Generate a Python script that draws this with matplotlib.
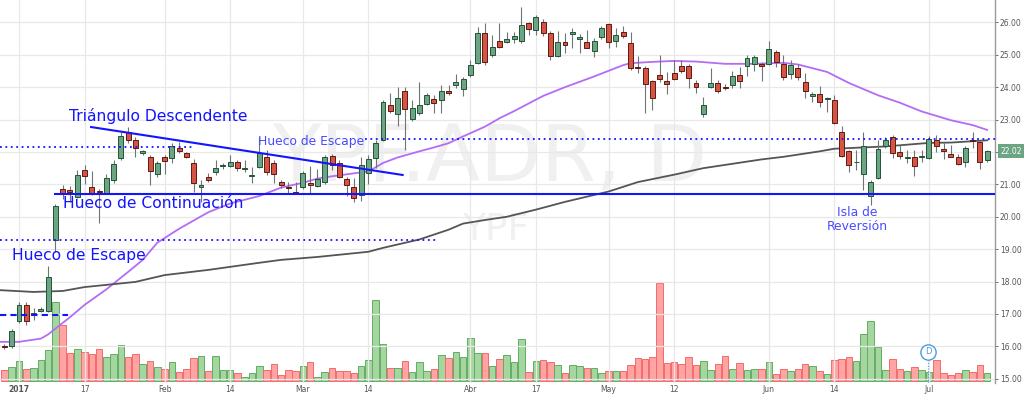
import matplotlib
matplotlib.use('Agg')
import matplotlib.pyplot as plt
import matplotlib.transforms as mtransforms
import numpy as np

# trading-day index: 0 = 3 Jan 2017, the two sessions before it are late Dec 2016
days = np.arange(-2, 134)

opens = [16.02, 16.00, 16.78, 17.28, 16.98, 17.08, 17.10, 19.29, 20.86, 20.82,
         20.60, 21.43, 20.92, 20.80, 20.74, 21.14, 21.81, 22.62, 22.37, 21.98,
         21.85, 21.32, 21.85, 21.82, 22.12, 21.96, 21.66, 20.93, 21.24, 21.39,
         21.56, 21.57, 21.70, 21.47, 21.26, 21.54, 21.85, 21.66, 21.07, 20.90,
         20.78, 20.92, 21.05, 20.95, 21.07, 21.88, 21.67, 21.16, 20.92, 20.67,
         21.35, 21.82, 22.37, 23.45, 23.17, 23.88, 23.02, 23.20, 23.48, 23.63,
         23.60, 23.88, 24.07, 23.95, 24.38, 24.75, 25.68, 25.00, 25.42, 25.40,
         25.48, 25.43, 25.98, 25.77, 26.00, 25.68, 24.96, 25.40, 25.64, 25.48,
         25.40, 25.12, 25.55, 25.95, 25.43, 25.70, 25.37, 24.62, 24.60, 24.20,
         24.38, 24.20, 24.44, 24.66, 24.66, 24.13, 23.17, 24.00, 24.13, 24.00,
         24.07, 24.38, 24.66, 24.72, 24.73, 24.72, 25.09, 24.72, 24.41, 24.60,
         24.16, 23.74, 23.78, 23.64, 23.60, 22.62, 22.03, 21.68, 21.32, 20.64,
         21.20, 22.18, 22.47, 22.00, 21.81, 21.85, 21.85, 21.82, 22.37, 22.10,
         21.94, 21.85, 21.69, 22.38, 22.30, 21.76]
highs = [16.08, 16.55, 17.38, 17.37, 17.20, 17.22, 18.48, 20.40, 20.98, 20.95,
         21.45, 21.60, 21.40, 20.85, 21.32, 21.75, 22.62, 22.78, 22.47, 22.07,
         21.92, 21.72, 21.90, 22.28, 22.30, 22.00, 21.78, 21.12, 21.36, 21.75,
         21.65, 21.92, 21.75, 21.75, 21.55, 22.45, 22.05, 21.75, 21.15, 21.07,
         21.07, 21.42, 21.57, 21.48, 21.90, 21.95, 21.75, 21.24, 21.20, 21.85,
         21.92, 22.38, 23.60, 23.82, 24.00, 24.00, 23.60, 24.17, 23.82, 23.77,
         24.07, 24.07, 24.40, 24.32, 24.84, 25.86, 25.99, 25.60, 25.98, 25.70,
         25.70, 26.48, 26.02, 26.24, 26.10, 25.72, 25.74, 25.67, 25.83, 25.65,
         25.77, 25.52, 25.90, 25.98, 25.83, 25.90, 25.70, 24.97, 24.65, 24.23,
         25.00, 24.47, 24.84, 24.84, 24.70, 24.23, 23.70, 24.59, 24.23, 24.10,
         24.50, 24.63, 25.00, 25.00, 24.78, 25.43, 25.15, 25.00, 24.84, 24.73,
         24.44, 23.85, 24.04, 23.70, 23.76, 22.80, 22.06, 22.06, 22.62, 21.14,
         22.37, 22.47, 22.52, 22.20, 22.06, 22.06, 22.06, 22.50, 22.52, 22.28,
         22.20, 21.94, 22.18, 22.62, 22.33, 22.05]
lows = [15.93, 15.95, 16.72, 16.66, 16.82, 17.05, 17.05, 18.92, 20.55, 20.45,
        20.58, 21.00, 20.68, 19.80, 20.72, 21.05, 21.76, 22.28, 21.85, 21.90,
        20.98, 21.22, 21.32, 21.66, 21.98, 21.80, 20.77, 20.45, 21.08, 21.30,
        21.48, 21.55, 21.42, 21.38, 21.05, 21.50, 21.30, 21.03, 20.88, 20.73,
        20.70, 20.85, 20.72, 20.92, 21.00, 21.45, 21.20, 20.65, 20.46, 20.50,
        21.00, 21.52, 22.35, 23.20, 22.80, 22.06, 22.95, 23.14, 23.45, 23.20,
        23.20, 23.75, 23.97, 23.73, 24.32, 24.72, 24.69, 24.93, 25.20, 25.35,
        25.35, 25.37, 25.60, 25.60, 25.58, 24.84, 24.92, 25.05, 25.20, 25.05,
        25.20, 24.93, 25.50, 25.20, 25.25, 25.52, 24.53, 24.44, 23.20, 23.30,
        24.16, 23.80, 24.22, 24.45, 23.97, 23.82, 23.08, 23.98, 23.82, 23.90,
        23.98, 23.97, 24.35, 24.50, 24.20, 24.68, 24.62, 24.22, 24.25, 24.22,
        23.67, 23.55, 23.39, 23.23, 22.85, 21.85, 21.38, 21.45, 20.82, 20.37,
        21.18, 22.12, 21.82, 21.78, 21.66, 21.26, 21.70, 21.78, 22.00, 21.78,
        21.83, 21.60, 21.54, 22.12, 21.47, 21.68]
closes = [15.98, 16.47, 17.28, 16.79, 17.02, 17.15, 18.14, 20.32, 20.73, 20.78,
          21.30, 21.25, 20.70, 20.75, 21.20, 21.63, 22.50, 22.37, 22.12, 22.02,
          21.42, 21.66, 21.73, 22.17, 22.04, 21.85, 21.03, 20.97, 21.14, 21.52,
          21.58, 21.70, 21.51, 21.50, 21.28, 21.96, 21.38, 21.32, 20.98, 20.88,
          20.72, 21.35, 20.98, 21.17, 21.85, 21.60, 21.24, 20.98, 20.58, 21.60,
          21.78, 22.27, 23.54, 23.27, 23.66, 23.33, 23.36, 23.45, 23.76, 23.51,
          23.88, 23.82, 24.17, 24.25, 24.69, 25.68, 24.78, 25.23, 25.24, 25.48,
          25.58, 25.92, 25.80, 26.17, 25.67, 24.96, 25.40, 25.30, 25.70, 25.55,
          25.21, 25.43, 25.83, 25.40, 25.61, 25.58, 24.60, 24.58, 24.10, 23.67,
          24.26, 24.10, 24.25, 24.50, 24.28, 24.00, 23.45, 24.13, 23.88, 23.98,
          24.35, 24.20, 24.90, 24.93, 24.66, 25.18, 24.78, 24.32, 24.69, 24.32,
          23.88, 23.78, 23.54, 23.66, 22.90, 21.88, 21.60, 21.70, 22.19, 21.07,
          22.10, 22.37, 21.97, 21.88, 21.83, 21.57, 21.88, 22.40, 22.18, 22.02,
          21.86, 21.63, 22.12, 22.35, 21.69, 22.02]
# volume, thousands of shares
volume = [550, 700, 1000, 600, 650, 1050, 1550, 3950, 2800, 1400,
          1600, 1450, 1350, 1600, 1200, 1350, 1800, 1200, 1350, 850,
          1000, 700, 600, 950, 450, 600, 1150, 1250, 500, 1250,
          550, 550, 400, 200, 400, 750, 550, 850, 300, 550,
          500, 750, 950, 200, 450, 650, 500, 500, 400, 750,
          1050, 4050, 1850, 650, 650, 1000, 450, 950, 500, 600,
          1300, 1150, 1450, 1200, 2150, 1400, 1400, 750, 1100, 1300,
          950, 2100, 450, 1000, 1050, 950, 800, 400, 800, 750,
          650, 650, 400, 500, 500, 500, 800, 1150, 1100, 1200,
          4900, 900, 950, 850, 1200, 800, 1000, 550, 850, 1250,
          600, 900, 550, 600, 600, 950, 350, 600, 500, 600,
          850, 750, 500, 350, 1050, 1100, 1200, 1000, 2350, 3000,
          1700, 550, 1100, 600, 500, 700, 550, 450, 1050, 400,
          300, 400, 550, 450, 800, 400]

# moving averages (day index, price)
ma_fast_days = [-3, 0, 3, 4, 7, 9, 12, 15, 17, 19, 22, 26, 29, 33, 36, 39, 41, 43,
                45, 48, 50, 52, 55, 57, 59, 61, 64, 66, 68, 72, 75, 79, 83, 84,
                87, 90, 93, 97, 101, 105, 107, 111, 114, 118, 121, 124, 128, 131, 133]
ma_fast = [16.14, 16.14, 16.24, 16.37, 16.90, 17.28, 17.76, 18.30, 18.67, 19.20,
           19.63, 20.14, 20.41, 20.64, 20.90, 21.05, 21.18, 21.25, 21.31, 21.40,
           21.66, 21.83, 22.02, 22.14, 22.27, 22.48, 22.78, 23.04, 23.26, 23.73,
           24.00, 24.33, 24.68, 24.74, 24.78, 24.81, 24.79, 24.72, 24.72, 24.75,
           24.70, 24.47, 24.13, 23.75, 23.52, 23.25, 22.98, 22.83, 22.68]
ma_slow_days = [-3, 2, 6, 9, 16, 20, 26, 33, 36, 41, 48, 50, 55, 59, 61, 64, 67, 71,
                75, 81, 85, 90, 94, 102, 105, 110, 112, 119, 125, 128, 133]
ma_slow = [17.74, 17.68, 17.71, 17.83, 17.99, 18.20, 18.36, 18.58, 18.67, 18.76,
           18.92, 19.04, 19.30, 19.60, 19.79, 19.90, 20.00, 20.22, 20.46, 20.78,
           21.07, 21.30, 21.50, 21.77, 21.85, 22.02, 22.10, 22.17, 22.28, 22.29,
           22.36]

tick_days = [0, 9, 20, 29, 39, 48, 62, 71, 81, 90, 103, 112, 125]
tick_labels = ['2017', '17', 'Feb', '14', 'Mar', '14', 'Abr', '17', 'May', '12',
               'Jun', '14', 'Jul']
price_ticks = np.arange(15, 27)

UP, UP_EDGE = '#6ba583', '#225437'
DOWN, DOWN_EDGE = '#d75442', '#5b1a13'
WICK = '#737375'
BLUE = '#1414ff'
LIGHT_BLUE = '#4a4aff'

o = np.array(opens)
c = np.array(closes)
up = c >= o

fig = plt.figure(figsize=(10.24, 3.95), dpi=100)
rect = [0, 12 / 395, 995 / 1024, 383 / 395]
ax = fig.add_axes(rect)
ax_vol = ax.twinx()
ax.set_zorder(ax_vol.get_zorder() + 1)
ax.patch.set_visible(False)

# volume
ax_vol.bar(days, volume, width=0.9,
           color=np.where(up, '#a6d6a0', '#ffa3a3'),
           edgecolor=np.where(up, '#62ad62', '#f26a6a'), linewidth=0.7)
ax_vol.set_ylim(-100, 19050)
ax_vol.set_yticks([])
for s in ax_vol.spines.values():
    s.set_visible(False)

# candles
ax.vlines(days, lows, highs, color=WICK, linewidth=0.8, zorder=3)
body_h = np.maximum(np.abs(c - o), 0.025)
ax.bar(days, body_h, bottom=np.minimum(o, c), width=0.68,
       color=np.where(up, UP, DOWN), edgecolor=np.where(up, UP_EDGE, DOWN_EDGE),
       linewidth=0.7, zorder=4)

# moving averages
ax.plot(ma_fast_days, ma_fast, color='#b46cf5', linewidth=1.3, zorder=2)
ax.plot(ma_slow_days, ma_slow, color='#555555', linewidth=1.3, zorder=2)

xmin, xmax = -2.61, 134.07
ax.set_xlim(xmin, xmax)
ax.set_ylim(14.87, 26.69)

# drawings
ax.plot([9.9, 52.7], [22.77, 21.29], color=BLUE, linewidth=1.5, zorder=5)
ax.hlines(20.71, 4.8, xmax, color=BLUE, linewidth=1.5, zorder=5)
ax.hlines(22.40, 47.5, xmax, color=BLUE, linewidth=1.3, linestyles=(0, (1, 2)), zorder=5)
ax.hlines(22.16, xmin, 23.9, color=BLUE, linewidth=1.3, linestyles=(0, (1, 2)), zorder=5)
ax.hlines(19.29, xmin, 57.4, color=BLUE, linewidth=1.3, linestyles=(0, (1, 2)), zorder=5)
ax.hlines(16.97, xmin, 6.7, color=BLUE, linewidth=1.5, linestyles=(0, (3, 2)), zorder=5)

ax.text(6.9, 23.11, 'Triángulo Descendente', color=BLUE, fontsize=11.2,
        va='center', ha='left', zorder=6)
ax.text(6.0, 20.40, 'Hueco de Continuación', color=BLUE, fontsize=11.2,
        va='center', ha='left', zorder=6)
ax.text(-0.96, 18.82, 'Hueco de Escape', color=BLUE, fontsize=11.2,
        va='center', ha='left', zorder=6)
ax.text(32.8, 22.31, 'Hueco de Escape', color=LIGHT_BLUE, fontsize=8.9,
        va='center', ha='left', zorder=6)
ax.text(115.1, 19.92, 'Isla de\nReversión', color=LIGHT_BLUE, fontsize=8.9,
        va='center', ha='center', linespacing=1.05, zorder=6)

# watermark
ax.text(64.7, 21.11, 'YPF.ADR, D', fontsize=57, color='#f0f0f0',
        ha='center', va='baseline', zorder=0)
ax.text(65.4, 19.29, 'YPF', fontsize=27, color='#f0f0f0',
        ha='center', va='baseline', zorder=0)

# dividend marker
ax.vlines(124.9, 14.87, 15.58, color='#4a9be0', linewidth=0.8,
          linestyles=(0, (1, 1.5)), zorder=6)
ax.plot(124.9, 15.83, 'o', ms=11, mfc='white', mec='#4a9be0', mew=1.0, zorder=7)
ax.text(124.9, 15.83, 'D', color='#4a9be0', fontsize=6, ha='center',
        va='center', zorder=8)

# axes styling
ax.set_xticks(tick_days)
ax.set_xticklabels(tick_labels)
ax.set_yticks(price_ticks)
ax.set_yticklabels(['%.2f' % p for p in price_ticks])
ax.yaxis.tick_right()
ax.tick_params(axis='y', labelsize=5.5, colors='#555555', length=2.5, width=0.6, pad=1)
ax.tick_params(axis='x', labelsize=5.5, colors='#555555', length=0, pad=1.8)
ax.get_xticklabels()[0].set_fontweight('bold')
ax.grid(True, color='#e8e8e8', linewidth=0.9, zorder=0)
ax.set_axisbelow(True)
for name, s in ax.spines.items():
    s.set_visible(name == 'right')
ax.spines['right'].set_color('#9a9a9a')
ax.spines['right'].set_linewidth(1.0)

# last price label
trans = mtransforms.blended_transform_factory(ax.transAxes, ax.transData)
ax.text(1.006, closes[-1], '%.2f' % closes[-1], transform=trans, color='white',
        fontsize=5.5, ha='left', va='center', clip_on=False, zorder=10,
        bbox=dict(boxstyle='square,pad=0.35', fc='#6ba583', ec='none'))

fig.savefig('out.png', dpi=100, facecolor='white')
